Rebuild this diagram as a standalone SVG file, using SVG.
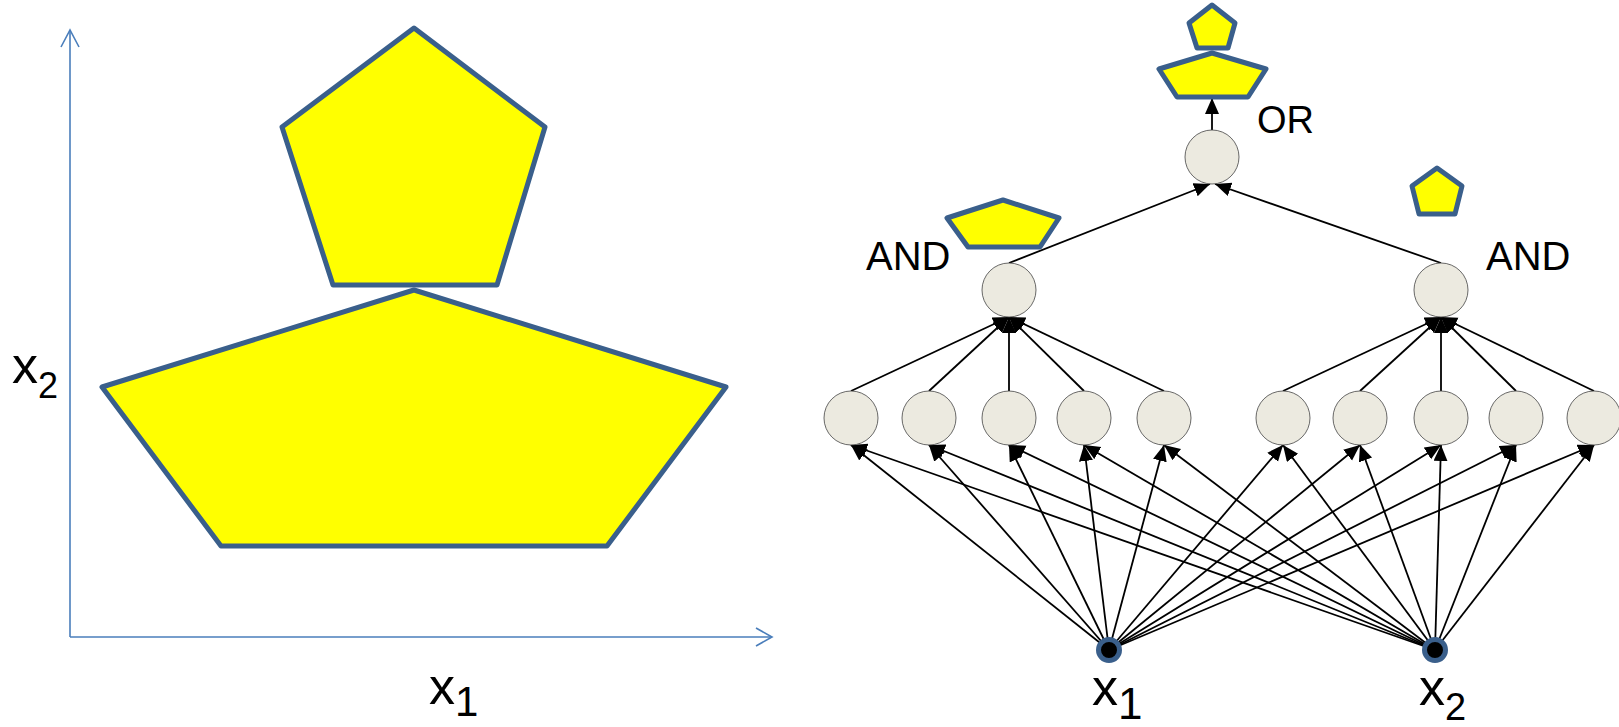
<svg xmlns="http://www.w3.org/2000/svg" width="1619" height="727" viewBox="0 0 1619 727">
<style>
.pent{fill:#FFFF00;stroke:#3A5F8B;stroke-width:5;stroke-linejoin:round}
.axis{fill:none;stroke:#4A7EBB;stroke-width:1.6}
.node{fill:#ECEAE0;stroke:#444;stroke-width:0.8}
.inp{fill:#000;stroke:#3A5F8B;stroke-width:5}
.edge{stroke:#000;stroke-width:1.8;fill:none;marker-end:url(#ah)}
.lbl{font-family:"Liberation Sans",Arial,sans-serif;fill:#000}
</style>
<defs>
<marker id="ah" markerUnits="userSpaceOnUse" markerWidth="18" markerHeight="16" refX="16" refY="7" orient="auto">
<path d="M0,0 L16,7 L0,14 z" fill="#000"/>
</marker>
</defs>
<rect width="1619" height="727" fill="#fff"/>

<g id="left-plot">
<line class="axis" x1="70" y1="637" x2="70" y2="30"/>
<polyline class="axis" points="61,47 70,30 79,47"/>
<line class="axis" x1="70" y1="637" x2="772" y2="637"/>
<polyline class="axis" points="756,628 772,637 756,646"/>
<polygon class="pent" points="414,28 545,127 497,285 333,285 282,127"/>
<polygon class="pent" points="414,290 726,387 607,546 221,546 102,387"/>
<text class="lbl" x="12" y="383" font-size="52">x<tspan font-size="36" dy="15">2</tspan></text>
<text class="lbl" x="429" y="704" font-size="52">x<tspan font-size="42" dy="12">1</tspan></text>
</g>

<g id="connectors">
<line class="edge" x1="1212" y1="130" x2="1212" y2="98"/>
<line class="edge" x1="1009" y1="263" x2="1210" y2="184"/>
<line class="edge" x1="1441" y1="263" x2="1215" y2="184"/>
<line class="edge" x1="851" y1="391" x2="1009" y2="317"/>
<line class="edge" x1="929" y1="391" x2="1009" y2="317"/>
<line class="edge" x1="1009" y1="391" x2="1009" y2="317"/>
<line class="edge" x1="1084" y1="391" x2="1009" y2="317"/>
<line class="edge" x1="1164" y1="391" x2="1009" y2="317"/>
<line class="edge" x1="1283" y1="391" x2="1441" y2="317"/>
<line class="edge" x1="1360" y1="391" x2="1441" y2="317"/>
<line class="edge" x1="1441" y1="391" x2="1441" y2="317"/>
<line class="edge" x1="1516" y1="391" x2="1441" y2="317"/>
<line class="edge" x1="1594" y1="391" x2="1441" y2="317"/>
<line class="edge" x1="1109" y1="650" x2="851" y2="445"/>
<line class="edge" x1="1109" y1="650" x2="929" y2="445"/>
<line class="edge" x1="1109" y1="650" x2="1009" y2="445"/>
<line class="edge" x1="1109" y1="650" x2="1084" y2="445"/>
<line class="edge" x1="1109" y1="650" x2="1164" y2="445"/>
<line class="edge" x1="1109" y1="650" x2="1283" y2="445"/>
<line class="edge" x1="1109" y1="650" x2="1360" y2="445"/>
<line class="edge" x1="1109" y1="650" x2="1441" y2="445"/>
<line class="edge" x1="1109" y1="650" x2="1516" y2="445"/>
<line class="edge" x1="1109" y1="650" x2="1594" y2="445"/>
<line class="edge" x1="1435" y1="650" x2="851" y2="445"/>
<line class="edge" x1="1435" y1="650" x2="929" y2="445"/>
<line class="edge" x1="1435" y1="650" x2="1009" y2="445"/>
<line class="edge" x1="1435" y1="650" x2="1084" y2="445"/>
<line class="edge" x1="1435" y1="650" x2="1164" y2="445"/>
<line class="edge" x1="1435" y1="650" x2="1283" y2="445"/>
<line class="edge" x1="1435" y1="650" x2="1360" y2="445"/>
<line class="edge" x1="1435" y1="650" x2="1441" y2="445"/>
<line class="edge" x1="1435" y1="650" x2="1516" y2="445"/>
<line class="edge" x1="1435" y1="650" x2="1594" y2="445"/>
</g>

<g id="or-node">
<circle class="node" cx="1212" cy="157" r="27"/>
<text class="lbl" x="1257" y="133" font-size="38">OR</text>
<polygon class="pent" points="1212,5 1235,23 1228,48 1197,48 1189,23"/>
<polygon class="pent" points="1212,53 1266,69 1248,97 1177,97 1159,69"/>
</g>

<g id="and-left">
<circle class="node" cx="1009" cy="290" r="27"/>
<text class="lbl" x="866" y="270" font-size="40">AND</text>
<polygon class="pent" points="1003,200 1059,218 1040,247 968,247 947,218"/>
</g>

<g id="and-right">
<circle class="node" cx="1441" cy="290" r="27"/>
<text class="lbl" x="1486" y="270" font-size="40">AND</text>
<polygon class="pent" points="1437,168 1462,186 1455,214 1419,214 1412,186"/>
</g>

<g id="h1"><circle class="node" cx="851" cy="418" r="27"/></g>
<g id="h2"><circle class="node" cx="929" cy="418" r="27"/></g>
<g id="h3"><circle class="node" cx="1009" cy="418" r="27"/></g>
<g id="h4"><circle class="node" cx="1084" cy="418" r="27"/></g>
<g id="h5"><circle class="node" cx="1164" cy="418" r="27"/></g>
<g id="h6"><circle class="node" cx="1283" cy="418" r="27"/></g>
<g id="h7"><circle class="node" cx="1360" cy="418" r="27"/></g>
<g id="h8"><circle class="node" cx="1441" cy="418" r="27"/></g>
<g id="h9"><circle class="node" cx="1516" cy="418" r="27"/></g>
<g id="h10"><circle class="node" cx="1594" cy="418" r="27"/></g>

<g id="input-x1">
<circle class="inp" cx="1109" cy="650" r="10.5"/>
<text class="lbl" x="1092" y="705" font-size="52">x<tspan font-size="44" dy="14">1</tspan></text>
</g>
<g id="input-x2">
<circle class="inp" cx="1435" cy="650" r="10.5"/>
<text class="lbl" x="1419" y="705" font-size="52">x<tspan font-size="38" dy="15">2</tspan></text>
</g>
</svg>
